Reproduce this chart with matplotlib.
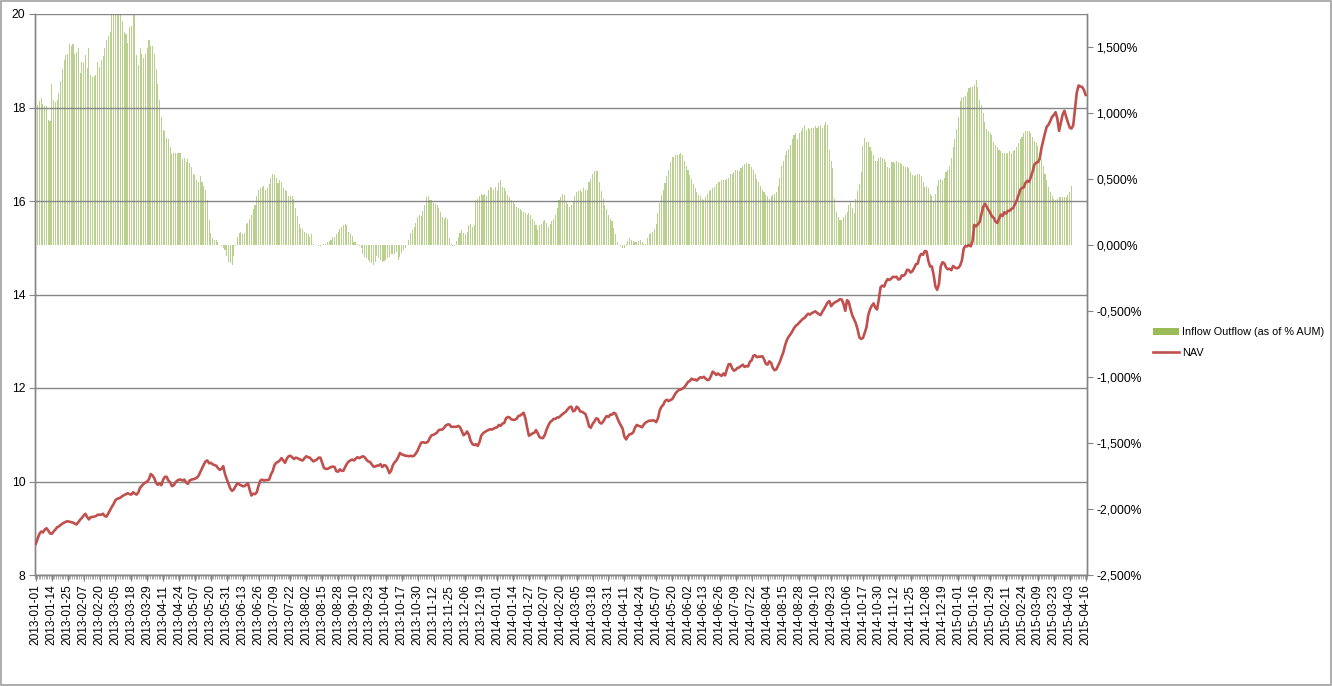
import matplotlib
matplotlib.use("Agg")
import matplotlib.pyplot as plt
from matplotlib.patches import Rectangle
from matplotlib.ticker import FixedLocator, FuncFormatter, MultipleLocator
import numpy as np

# daily inflow/outflow as % of AUM (secondary axis)
flows = [
    1.01, 1.06, 1.09, 1.11, 1.07, 1.05, 1.05, 0.95, 0.94, 1.22,
    1.10, 1.08, 1.10, 1.15, 1.24, 1.33, 1.40, 1.44, 1.45, 1.52,
    1.51, 1.52, 1.45, 1.46, 1.49, 1.30, 1.39, 1.38, 1.44, 1.34,
    1.49, 1.29, 1.27, 1.28, 1.29, 1.39, 1.35, 1.40, 1.43, 1.49,
    1.55, 1.58, 1.61, 1.78, 1.80, 1.80, 1.80, 1.78, 1.76, 1.70,
    1.61, 1.60, 1.53, 1.65, 1.66, 1.74, 1.78, 1.44, 1.36, 1.49,
    1.45, 1.42, 1.45, 1.49, 1.55, 1.51, 1.51, 1.45, 1.33, 1.22,
    1.10, 0.97, 0.87, 0.86, 0.81, 0.80, 0.74, 0.69, 0.70, 0.70,
    0.70, 0.70, 0.70, 0.65, 0.66, 0.63, 0.65, 0.62, 0.59, 0.54,
    0.53, 0.49, 0.48, 0.52, 0.48, 0.45, 0.42, 0.34, 0.19, 0.09,
    0.055, 0.04, 0.035, 0.025, 0.0, -0.01, -0.025, -0.04, -0.08, -0.13,
    -0.14, -0.15, -0.08, -0.01, 0.06, 0.09, 0.10, 0.08, 0.09, 0.16,
    0.17, 0.20, 0.23, 0.27, 0.30, 0.37, 0.42, 0.43, 0.44, 0.45,
    0.42, 0.43, 0.46, 0.51, 0.54, 0.53, 0.51, 0.47, 0.49, 0.48,
    0.43, 0.42, 0.41, 0.37, 0.37, 0.37, 0.35, 0.28, 0.22, 0.16,
    0.13, 0.12, 0.10, 0.09, 0.08, 0.06, 0.08, 0.01, 0.0, 0.0,
    -0.01, -0.01, 0.0, 0.01, 0.01, 0.02, 0.03, 0.04, 0.06, 0.06,
    0.08, 0.10, 0.12, 0.14, 0.15, 0.16, 0.15, 0.10, 0.09, 0.07,
    0.02, 0.02, 0.01, -0.005, -0.02, -0.07, -0.09, -0.10, -0.11, -0.13,
    -0.14, -0.15, -0.13, -0.08, -0.10, -0.11, -0.13, -0.12, -0.11, -0.10,
    -0.09, -0.07, -0.07, -0.065, -0.05, -0.11, -0.09, -0.06, -0.04, -0.025,
    0.0, 0.04, 0.09, 0.11, 0.14, 0.17, 0.21, 0.23, 0.22, 0.26,
    0.30, 0.36, 0.37, 0.34, 0.34, 0.32, 0.31, 0.30, 0.28, 0.25,
    0.21, 0.20, 0.21, 0.20, 0.05, 0.01, -0.01, -0.01, 0.03, 0.06,
    0.09, 0.11, 0.09, 0.08, 0.10, 0.15, 0.16, 0.14, 0.15, 0.34,
    0.35, 0.37, 0.39, 0.38, 0.39, 0.37, 0.42, 0.44, 0.43, 0.42,
    0.44, 0.41, 0.47, 0.49, 0.44, 0.43, 0.41, 0.38, 0.36, 0.34,
    0.33, 0.31, 0.29, 0.28, 0.27, 0.26, 0.25, 0.24, 0.23, 0.24,
    0.23, 0.20, 0.18, 0.15, 0.11, 0.15, 0.16, 0.18, 0.19, 0.17,
    0.14, 0.16, 0.18, 0.20, 0.23, 0.28, 0.34, 0.36, 0.39, 0.38,
    0.33, 0.31, 0.29, 0.30, 0.33, 0.37, 0.40, 0.41, 0.42, 0.40,
    0.43, 0.42, 0.42, 0.48, 0.50, 0.54, 0.56, 0.56, 0.56, 0.48,
    0.41, 0.35, 0.30, 0.27, 0.23, 0.20, 0.18, 0.13, 0.08, 0.02,
    0.0, -0.01, -0.02, -0.02, 0.01, 0.03, 0.05, 0.04, 0.03, 0.025,
    0.02, 0.03, 0.04, 0.02, 0.01, 0.01, 0.05, 0.08, 0.09, 0.10,
    0.12, 0.16, 0.24, 0.32, 0.38, 0.42, 0.47, 0.52, 0.57, 0.63,
    0.67, 0.67, 0.68, 0.68, 0.69, 0.70, 0.68, 0.64, 0.60, 0.57,
    0.53, 0.50, 0.46, 0.43, 0.40, 0.38, 0.37, 0.35, 0.34, 0.36,
    0.39, 0.41, 0.42, 0.43, 0.44, 0.46, 0.48, 0.48, 0.49, 0.49,
    0.49, 0.50, 0.51, 0.54, 0.54, 0.55, 0.57, 0.57, 0.56, 0.58,
    0.60, 0.61, 0.62, 0.61, 0.61, 0.59, 0.57, 0.54, 0.50, 0.48,
    0.45, 0.42, 0.40, 0.38, 0.37, 0.35, 0.37, 0.38, 0.39, 0.40,
    0.45, 0.51, 0.60, 0.64, 0.68, 0.71, 0.73, 0.76, 0.80, 0.83,
    0.85, 0.80, 0.85, 0.86, 0.89, 0.91, 0.87, 0.89, 0.88, 0.89,
    0.89, 0.90, 0.89, 0.90, 0.91, 0.89, 0.91, 0.93, 0.91, 0.72,
    0.64, 0.58, 0.35, 0.25, 0.21, 0.19, 0.19, 0.21, 0.23, 0.25,
    0.30, 0.33, 0.28, 0.24, 0.35, 0.41, 0.46, 0.55, 0.75, 0.81,
    0.78, 0.78, 0.74, 0.71, 0.68, 0.64, 0.64, 0.66, 0.67, 0.66,
    0.65, 0.63, 0.59, 0.58, 0.63, 0.63, 0.62, 0.64, 0.63, 0.62,
    0.61, 0.60, 0.59, 0.59, 0.58, 0.55, 0.53, 0.52, 0.53, 0.54,
    0.54, 0.52, 0.48, 0.44, 0.45, 0.43, 0.39, 0.37, 0.33, 0.39,
    0.45, 0.49, 0.50, 0.49, 0.51, 0.55, 0.57, 0.60, 0.66, 0.74,
    0.80, 0.88, 0.97, 1.09, 1.11, 1.12, 1.13, 1.16, 1.19, 1.20,
    1.20, 1.21, 1.25, 1.20, 1.10, 1.06, 1.00, 0.93, 0.88, 0.86,
    0.85, 0.83, 0.78, 0.76, 0.74, 0.72, 0.71, 0.70, 0.70, 0.69,
    0.70, 0.71, 0.70, 0.71, 0.72, 0.74, 0.77, 0.80, 0.82, 0.85,
    0.86, 0.86, 0.86, 0.85, 0.82, 0.79, 0.77, 0.75, 0.70, 0.65,
    0.60, 0.54, 0.49, 0.44, 0.40, 0.37, 0.35, 0.34, 0.35, 0.36,
    0.36, 0.36, 0.36, 0.36, 0.38, 0.40, 0.45,
]

# fund NAV (primary axis)
nav = [
    8.67, 8.78, 8.88, 8.93, 8.91, 8.97, 9.00, 8.95, 8.89, 8.88,
    8.93, 8.97, 9.02, 9.04, 9.07, 9.10, 9.12, 9.14, 9.15, 9.14,
    9.13, 9.12, 9.10, 9.08, 9.13, 9.18, 9.22, 9.27, 9.31, 9.24,
    9.19, 9.24, 9.24, 9.25, 9.26, 9.29, 9.29, 9.29, 9.31, 9.26,
    9.25, 9.32, 9.39, 9.46, 9.52, 9.60, 9.63, 9.64, 9.66, 9.69,
    9.71, 9.73, 9.75, 9.73, 9.72, 9.77, 9.74, 9.72, 9.77, 9.87,
    9.91, 9.95, 9.98, 10.00, 10.05, 10.16, 10.13, 10.07, 9.97, 9.93,
    9.96, 9.92, 10.04, 10.10, 10.10, 10.02, 9.98, 9.90, 9.92, 9.98,
    10.02, 10.04, 10.04, 10.02, 10.04, 9.98, 9.95, 10.02, 10.04, 10.05,
    10.06, 10.08, 10.12, 10.20, 10.28, 10.36, 10.43, 10.45, 10.39, 10.40,
    10.37, 10.35, 10.34, 10.29, 10.25, 10.27, 10.33, 10.16, 10.05, 9.95,
    9.85, 9.80, 9.83, 9.90, 9.96, 9.94, 9.92, 9.90, 9.90, 9.93,
    9.96, 9.82, 9.70, 9.74, 9.73, 9.77, 9.91, 10.02, 10.04, 10.02,
    10.03, 10.03, 10.04, 10.15, 10.22, 10.35, 10.40, 10.42, 10.45, 10.50,
    10.45, 10.40, 10.49, 10.54, 10.55, 10.52, 10.48, 10.51, 10.50, 10.48,
    10.46, 10.45, 10.50, 10.54, 10.52, 10.51, 10.47, 10.43, 10.45, 10.47,
    10.51, 10.51, 10.40, 10.29, 10.27, 10.27, 10.29, 10.31, 10.32, 10.31,
    10.22, 10.21, 10.26, 10.23, 10.23, 10.31, 10.38, 10.43, 10.45, 10.47,
    10.45, 10.49, 10.52, 10.50, 10.52, 10.54, 10.52, 10.47, 10.43, 10.42,
    10.37, 10.32, 10.32, 10.34, 10.34, 10.37, 10.31, 10.35, 10.34, 10.28,
    10.18, 10.23, 10.35, 10.41, 10.45, 10.52, 10.61, 10.58, 10.57, 10.55,
    10.55, 10.54, 10.55, 10.54, 10.55, 10.60, 10.66, 10.75, 10.83, 10.84,
    10.83, 10.83, 10.86, 10.94, 10.99, 11.00, 11.02, 11.05, 11.10, 11.11,
    11.11, 11.15, 11.20, 11.22, 11.22, 11.17, 11.17, 11.17, 11.17, 11.19,
    11.16, 11.08, 10.99, 11.02, 11.07, 11.00, 10.87, 10.80, 10.78, 10.80,
    10.76, 10.84, 10.98, 11.03, 11.06, 11.08, 11.10, 11.12, 11.11, 11.13,
    11.15, 11.16, 11.21, 11.19, 11.24, 11.25, 11.35, 11.38, 11.37, 11.33,
    11.32, 11.32, 11.34, 11.40, 11.41, 11.44, 11.47, 11.35, 11.15, 10.98,
    11.00, 11.03, 11.04, 11.10, 11.03, 10.95, 10.93, 10.93, 11.00, 11.11,
    11.20, 11.27, 11.30, 11.34, 11.34, 11.37, 11.37, 11.41, 11.44, 11.47,
    11.50, 11.55, 11.59, 11.60, 11.50, 11.52, 11.60, 11.57, 11.50, 11.49,
    11.47, 11.44, 11.33, 11.18, 11.15, 11.23, 11.28, 11.35, 11.34, 11.26,
    11.24, 11.28, 11.35, 11.40, 11.38, 11.43, 11.43, 11.47, 11.45, 11.36,
    11.27, 11.20, 11.13, 10.96, 10.90, 10.97, 11.01, 11.02, 11.05, 11.15,
    11.21, 11.19, 11.18, 11.16, 11.22, 11.26, 11.28, 11.30, 11.30, 11.31,
    11.30, 11.27, 11.35, 11.52, 11.60, 11.64, 11.72, 11.75, 11.72, 11.74,
    11.76, 11.82, 11.89, 11.93, 11.96, 11.97, 11.99, 12.02, 12.07, 12.13,
    12.15, 12.20, 12.18, 12.18, 12.16, 12.20, 12.23, 12.22, 12.24, 12.20,
    12.17, 12.18, 12.26, 12.35, 12.32, 12.28, 12.31, 12.28, 12.26, 12.31,
    12.27, 12.40, 12.51, 12.51, 12.42, 12.37, 12.39, 12.43, 12.44, 12.47,
    12.50, 12.45, 12.47, 12.46, 12.56, 12.59, 12.69, 12.70, 12.66, 12.67,
    12.67, 12.68, 12.62, 12.52, 12.50, 12.57, 12.54, 12.43, 12.38, 12.40,
    12.48, 12.56, 12.67, 12.77, 12.92, 13.03, 13.10, 13.15, 13.21, 13.28,
    13.33, 13.36, 13.40, 13.44, 13.48, 13.50, 13.55, 13.59, 13.57, 13.60,
    13.62, 13.64, 13.61, 13.58, 13.56, 13.63, 13.69, 13.76, 13.83, 13.86,
    13.75, 13.80, 13.83, 13.85, 13.87, 13.90, 13.89, 13.80, 13.65, 13.88,
    13.84, 13.68, 13.55, 13.47, 13.38, 13.25, 13.08, 13.05, 13.07, 13.18,
    13.30, 13.56, 13.68, 13.76, 13.81, 13.72, 13.68, 13.90, 14.16, 14.19,
    14.17, 14.27, 14.33, 14.31, 14.34, 14.38, 14.37, 14.38, 14.32, 14.33,
    14.41, 14.40, 14.44, 14.53, 14.52, 14.47, 14.50, 14.57, 14.65, 14.66,
    14.81, 14.87, 14.85, 14.93, 14.92, 14.72, 14.60, 14.60, 14.42, 14.17,
    14.10, 14.22, 14.60, 14.69, 14.67, 14.58, 14.54, 14.55, 14.52, 14.61,
    14.58, 14.56, 14.57, 14.62, 14.73, 14.98, 15.04, 15.03, 15.06, 15.03,
    15.14, 15.49, 15.46, 15.50, 15.55, 15.71, 15.87, 15.94, 15.88, 15.81,
    15.75, 15.67, 15.64, 15.56, 15.53, 15.62, 15.71, 15.68, 15.76, 15.73,
    15.79, 15.79, 15.83, 15.85, 15.93, 16.01, 16.12, 16.24, 16.28, 16.29,
    16.39, 16.43, 16.41, 16.51, 16.63, 16.78, 16.82, 16.83, 16.90, 17.13,
    17.29, 17.45, 17.59, 17.63, 17.71, 17.80, 17.84, 17.90, 17.76, 17.50,
    17.68, 17.85, 17.93, 17.80, 17.68, 17.57, 17.55, 17.62, 17.98, 18.32,
    18.47, 18.45, 18.44, 18.38, 18.27,
]

# every 9th category carries a label
date_labels = [
    "2013-01-01", "2013-01-14", "2013-01-25", "2013-02-07", "2013-02-20",
    "2013-03-05", "2013-03-18", "2013-03-29", "2013-04-11", "2013-04-24",
    "2013-05-07", "2013-05-20", "2013-05-31", "2013-06-13", "2013-06-26",
    "2013-07-09", "2013-07-22", "2013-08-02", "2013-08-15", "2013-08-28",
    "2013-09-10", "2013-09-23", "2013-10-04", "2013-10-17", "2013-10-30",
    "2013-11-12", "2013-11-25", "2013-12-06", "2013-12-19", "2014-01-01",
    "2014-01-14", "2014-01-27", "2014-02-07", "2014-02-20", "2014-03-05",
    "2014-03-18", "2014-03-31", "2014-04-11", "2014-04-24", "2014-05-07",
    "2014-05-20", "2014-06-02", "2014-06-13", "2014-06-26", "2014-07-09",
    "2014-07-22", "2014-08-04", "2014-08-15", "2014-08-28", "2014-09-10",
    "2014-09-23", "2014-10-06", "2014-10-17", "2014-10-30", "2014-11-12",
    "2014-11-25", "2014-12-08", "2014-12-19", "2015-01-01", "2015-01-16",
    "2015-01-29", "2015-02-11", "2015-02-24", "2015-03-09", "2015-03-23",
    "2015-04-03", "2015-04-16",
]
label_step = 9

plt.rcParams['font.family'] = ['Liberation Sans', 'DejaVu Sans']
grey = '#868686'

fig = plt.figure(figsize=(13.32, 6.86), dpi=100)
fig.patches.append(Rectangle((0.0008, 0.0015), 0.9982, 0.9965, transform=fig.transFigure,
                             fill=False, edgecolor='#a0a0a0', linewidth=1.2))

ax_bar = fig.add_axes([35 / 1332, 1 - 575 / 686, (1086.5 - 35) / 1332, (575 - 14) / 686])
ax_nav = ax_bar.twinx()

n_cat = len(nav)
x_nav = np.arange(n_cat)
x_bar = np.arange(len(flows))

ax_bar.bar(x_bar, flows, width=0.6, color='#B9D08E', linewidth=0, zorder=1)
ax_bar.set_ylim(-2.5, 1.75)
ax_bar.yaxis.tick_right()
ax_bar.yaxis.set_major_locator(MultipleLocator(0.5))
ax_bar.yaxis.set_major_formatter(FuncFormatter(lambda v, p: f"{v:.3f}%".replace('.', ',')))

ax_nav.plot(x_nav, nav, color='#C0504D', linewidth=1.9, zorder=3, solid_joinstyle='round')
ax_nav.set_ylim(8, 20)
ax_nav.yaxis.tick_left()
ax_nav.yaxis.set_major_locator(MultipleLocator(2))
ax_nav.grid(axis='y', color=grey, linewidth=1.0)
ax_nav.set_axisbelow(True)

for a in (ax_bar, ax_nav):
    a.set_xlim(-0.5, n_cat - 0.5)
    a.set_facecolor('none')
    for side in a.spines:
        a.spines[side].set_color(grey)
        a.spines[side].set_linewidth(1.0)
    a.spines['top'].set_visible(False)
    a.tick_params(axis='y', length=4, width=0.8, color=grey, labelsize=8.7, pad=3)
ax_bar.patch.set_visible(False)

tick_pos = list(range(0, n_cat, label_step))
ax_bar.xaxis.set_major_locator(FixedLocator(tick_pos))
ax_bar.set_xticklabels(date_labels[:len(tick_pos)], rotation=90, fontsize=8.6)
ax_bar.xaxis.set_minor_locator(FixedLocator(np.arange(-0.5, n_cat, 1.0)))
ax_bar.tick_params(axis='x', which='major', length=4, width=0.8, color=grey, pad=3)
ax_bar.tick_params(axis='x', which='minor', length=3, width=0.5, color=grey)
ax_nav.tick_params(axis='x', which='both', bottom=False, labelbottom=False)

handles = [ax_bar.containers[0], ax_nav.lines[0]]
leg = fig.legend(handles, ["Inflow Outflow (as of % AUM)", "NAV"],
                 loc='upper left', bbox_to_anchor=(1149 / 1332, 1 - 323 / 686),
                 frameon=False, fontsize=7.8, handlelength=2.4, handletextpad=0.25,
                 labelspacing=1.0, borderaxespad=0)
leg.legend_handles[0].set_color('#9BBB59')

fig.savefig("out.png", dpi=100)
